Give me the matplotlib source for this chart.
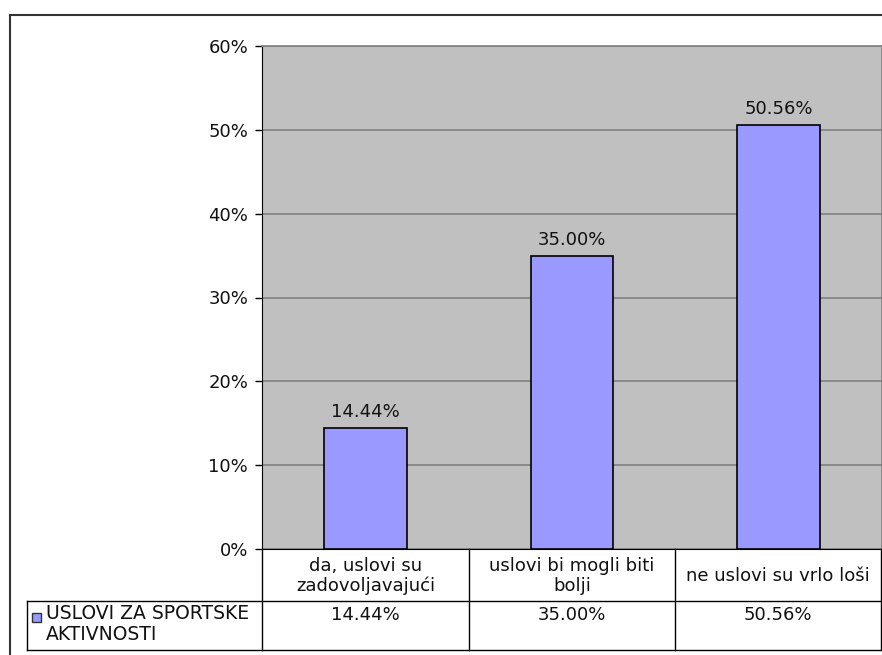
import matplotlib.pyplot as plt
from matplotlib.lines import Line2D
from matplotlib.patches import Rectangle

# podaci
categories = ['da, uslovi su\nzadovoljavajući', 'uslovi bi mogli biti\nbolji', 'ne uslovi su vrlo loši']
values = [14.44, 35.00, 50.56]
series_name = 'USLOVI ZA SPORTSKE\nAKTIVNOSTI'
y_ticks = [0, 10, 20, 30, 40, 50, 60]

W, H = 882, 655
bar_color = '#9999FF'
fs = 13

fig = plt.figure(figsize=(W / 100, H / 100), dpi=100)

def fx(px):
    return px / W

def fy(py):
    return 1 - py / H

ax = fig.add_axes([fx(262), fy(549), fx(882) - fx(262), fy(46) - fy(549)])
ax.set_facecolor('#C0C0C0')
x = list(range(len(categories)))
ax.bar(x, values, width=0.4, color=bar_color, edgecolor='black', linewidth=1.2, zorder=3)
for xi, v in zip(x, values):
    ax.annotate(f'{v:.2f}%', (xi, v), xytext=(0, 5), textcoords='offset points',
                ha='center', va='bottom', fontsize=fs, color='#111111')

ax.set_xlim(-0.5, len(categories) - 0.5)
ax.set_ylim(0, 60)
ax.set_yticks(y_ticks)
ax.set_yticklabels([f'{t}%' for t in y_ticks], fontsize=fs, color='#111111')
ax.set_xticks([])
ax.yaxis.grid(True, color='#808080', linewidth=1.2, zorder=0)
ax.set_axisbelow(True)
ax.tick_params(axis='y', length=5, width=1, pad=5, colors='black', labelcolor='#111111')
ax.spines['left'].set_color('black')
ax.spines['bottom'].set_color('black')
for s in ['top', 'right']:
    ax.spines[s].set_color('#808080')
    ax.spines[s].set_linewidth(1.2)

# tabela podataka ispod grafikona
def hline(y, x0, x1, lw=1):
    fig.add_artist(Line2D([fx(x0), fx(x1)], [fy(y), fy(y)], color='black', linewidth=lw))

def vline(xp, y0, y1, lw=1):
    fig.add_artist(Line2D([fx(xp), fx(xp)], [fy(y0), fy(y1)], color='black', linewidth=lw))

col_edges = [262, 469, 675, 881]
hline(601, 27, 882)
hline(650, 27, 882)
for xe in col_edges:
    vline(xe, 549, 650)
vline(27, 601, 650)

for i, (cat, v) in enumerate(zip(categories, values)):
    cx = (col_edges[i] + col_edges[i + 1]) / 2
    fig.text(fx(cx), fy(576), cat, ha='center', va='center', fontsize=fs, linespacing=1.15,
             color='#111111')
    fig.text(fx(cx), fy(606), f'{v:.2f}%', ha='center', va='top', fontsize=fs, color='#111111')

fig.add_artist(Rectangle((fx(32), fy(622)), fx(9), fy(613) - fy(622), facecolor=bar_color,
                         edgecolor='#333333', linewidth=1))
fig.text(fx(46), fy(604), series_name, ha='left', va='top', fontsize=fs + 0.5, linespacing=1.1,
         color='#111111')

# okvir oko grafikona
fig.add_artist(Line2D([fx(10), fx(882)], [fy(15), fy(15)], color='#333333', linewidth=1.5))
fig.add_artist(Line2D([fx(10), fx(10)], [fy(15), fy(655)], color='#333333', linewidth=1.5))

plt.savefig('out.png', dpi=100)
